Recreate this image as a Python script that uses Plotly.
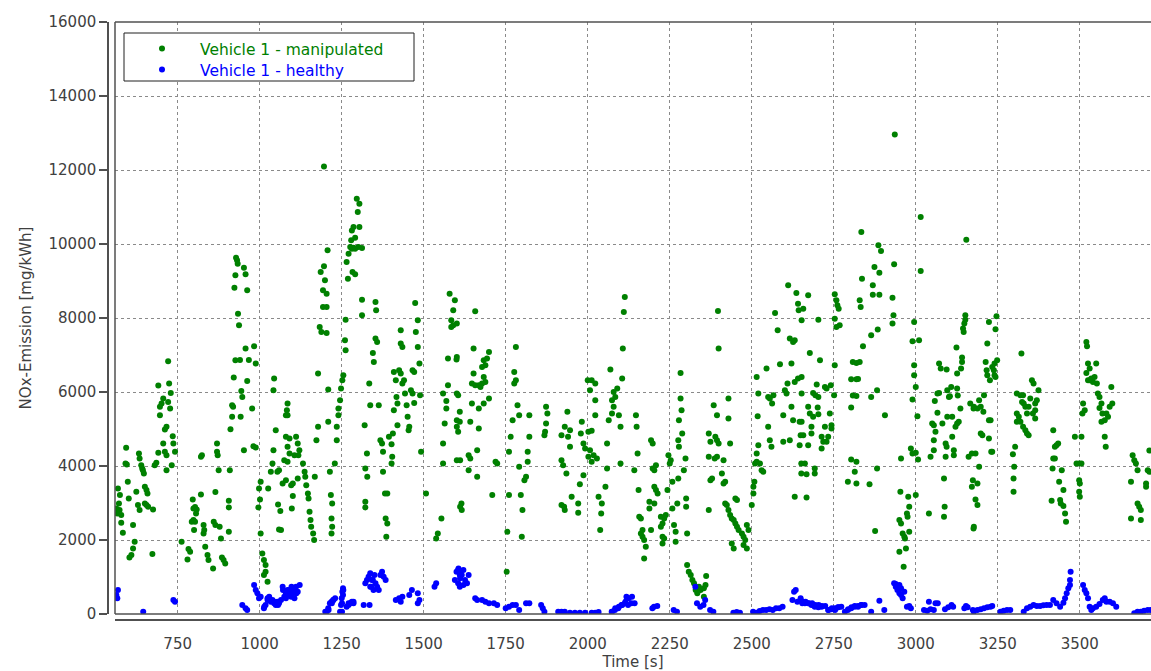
import plotly.graph_objects as go

# NOx emission samples (time [s], NOx [mg/kWh]) - manipulated vehicle
manip_a = [(568,3393),(574,3213),(571,2988),(563,2853),(573,2808),(566,2718),(578,2673),(578,2466),(583,2196),
           (593,4491),(591,4068),(595,4041),(598,3573),(601,3123),(619,1953),(614,1773),(609,1593),(603,1530),
           (624,3303),(614,2403),(629,2943),(634,2808),(632,4338),(634,4203),(639,4023),(644,3888),(647,3798),
           (642,3933),(650,3438),(655,3348),(658,3258),(650,2988),(655,2943),(660,2898),(675,2826),(673,1620),
           (680,4023),(685,4086),(691,4356),(691,6174),(696,5598),(701,5688),(696,5373),(706,5823),(711,4986),
           (716,5058),(706,4608),(711,4383),(716,4293),(721,6831),(724,6228),(729,5976),(721,5733),(727,5553),
           (735,4806),(737,4608),(742,4383),(732,4023),(716,3888)]
manip_b = [(762,1953),(783,1755),(788,1683),(780,1476),(796,3096),(798,2850),(803,2895),(808,2823),(806,2718),
           (798,2538),(803,2493),(793,2493),(800,2268),(821,3231),(821,4248),(824,4293),(829,2403),(831,2268),
           (829,2178),(834,1818),(841,1593),(844,1458),(858,1233),(860,2493),(865,2403),(865,3294),(870,4608),
           (870,4383),(872,4293),(875,3888),(878,2358),(882,2043),(885,1530),(890,1458),(895,1368),(906,2223),
           (906,3060),(906,2880),(909,3888),(911,4995),(916,5643),(919,5598),(916,5328),(921,6390),(926,6858),
           (928,9630),(931,9558),(933,9468),(926,9153),(923,8820),(934,8118),(937,7803),(942,5328),(944,6030),
           (947,5868),(940,6867),(952,9360),(957,9180),(962,8748),(952,4428),(957,7173),(967,6867),(962,6300),
           (977,5553),(981,4536),(988,4500),(983,7236),(988,6768)]
manip_c = [(1003,2178),(1003,3573),(998,3393),(1001,3096),(996,2880),(1008,1638),(1013,1458),(1018,1323),
           (1018,1143),(1013,1053),(1024,873),(1026,3393),(1034,3843),(1039,4068),(1042,4428),(1049,4968),
           (1044,6363),(1042,6048),(1054,3843),(1059,3888),(1056,2961),(1063,2781),(1059,2286),(1065,2268),
           (1070,3528),(1080,3618),(1075,4158),(1080,4788),(1085,5373),(1085,5688)]
manip_d = [(1083,5508),(1080,5373),(1091,4743),(1085,4518),(1091,4338),(1085,4113),(1096,3483),(1101,3186),
           (1098,2853),(1111,4788),(1116,4608),(1121,4428),(1118,4293),(1106,4293),(1132,4068),(1137,3843),
           (1139,3708),(1142,3483),(1147,3258),(1149,3123),(1152,2763),(1155,2538),(1157,2358),(1163,2178),
           (1166,1998),(1116,3663),(1101,3528),(1168,3708),(1173,4698),(1178,5058),(1178,6498),(1183,7758),
           (1188,7623),(1204,7596),(1186,9243),(1196,9396),(1199,9018),(1204,8658),(1193,8748),(1193,8298),
           (1204,8298),(1207,9828),(1209,6066),(1209,5193),(1214,3843),(1217,3213),(1221,2988),(1219,2583),
           (1221,2358),(1219,2178),(1196,12096),(1229,4068),(1235,4698),(1235,5058),(1240,5373),(1240,5553),
           (1245,5778),(1248,6093),(1252,6318),(1255,6453),(1262,7956),(1260,7398),(1262,7128),(1265,9513),
           (1271,9738),(1269,9063),(1276,9918),(1281,9873),(1286,9900),(1291,9873),(1301,9918),(1312,9891),
           (1279,10098),(1291,10170),(1304,10458),(1299,10863),(1304,11088),(1296,11223),(1281,10368),
           (1286,10458),(1283,9243),(1291,9180),(1312,8496),(1312,8073),(1320,5103),(1327,4338),(1322,3933),
           (1328,3708),(1322,3033),(1322,2880),(1334,6228),(1337,5643),(1345,7056),(1348,6813),(1353,8433),
           (1355,8208),(1353,7443),(1358,7353),(1363,5643),(1368,4698),(1373,4608),(1376,4383),(1376,3843),
           (1382,3258),(1389,3258),(1384,2583),(1389,2448),(1386,2088),(1394,4788),(1402,4590),(1404,4248),
           (1402,4068),(1409,6543),(1415,6318),(1417,5868),(1420,5688),(1409,5508),(1420,5103),(1406,4878),
           (1425,6588),(1430,6498),(1435,6228),(1440,6318),(1430,7668),(1435,7218),(1430,7308),(1443,5958),
           (1448,5643),(1451,5328),(1456,5058),(1454,4968),(1461,6048),(1466,5958),(1471,5706),(1466,6588),
           (1471,6543),(1474,8406),(1482,7938),(1476,7623),(1482,7218),(1487,6768),(1489,5913),(1492,4383),
           (1507,3258),(1538,2043),(1543,2178),(1554,2583),(1579,8658),(1595,8478),(1590,8208),(1584,7938),
           (1590,7803),(1584,7758),(1574,6903),(1600,6876),(1574,6183),(1559,5958),(1569,5760),(1569,5553),
           (1564,5148),(1559,4608),(1559,4068),(1605,5913),(1610,5463),(1605,4923),(1610,5193),(1615,2988)]
manip_e = [(1601,7848),(1601,6948),(1601,5958),(1601,5238),(1601,5058),(1601,4158),(1611,2898),(1616,2808),
           (1611,4158),(1637,4293),(1642,4203),(1637,3888),(1663,4428),(1642,5193),(1647,5688),(1668,5553),
           (1683,5688),(1699,5823),(1652,7173),(1699,7083),(1683,6858),(1688,6723),(1693,6903),(1678,6678),
           (1683,6408),(1652,6498),(1647,6228),(1657,6183),(1668,6183),(1673,6138),(1678,6228),(1688,6273),
           (1668,5013),(1663,3708),(1709,3213),(1719,4113),(1724,4068),(1657,8181),(1760,4383),(1760,3213),
           (1755,2223),(1753,1143),(1771,5238),(1765,4788),(1776,6543),(1781,6318),(1776,6228),(1781,7218),
           (1786,5643),(1791,5373),(1791,3978),(1796,3213),(1801,2808),(1799,2088),(1807,3618),(1812,3708),
           (1817,4383),(1817,4113),(1822,5373),(1822,4788),(1873,5598),(1877,5418),(1870,4923),(1868,4833),
           (1873,5148),(1920,4833),(1930,5058),(1938,5463),(1946,4968),(1940,4788),(1946,4518),(1920,4158),
           (1925,4023),(1935,3798),(1920,2943),(1928,2898),(1930,2808),(1951,3168),(1971,2988),(1971,2736),
           (1976,3510),(1987,3753),(1982,5193),(1979,4878),(1987,4608),(1992,4473),(2002,4923),(2012,4950),
           (2007,4428),(2002,4248),(2012,4113),(2018,4293),(2028,4203),(2000,6318),(2012,6318),(2023,6228),
           (2007,6048),(2023,5778),(2023,5373),(2033,3168),(2043,2988),(2041,2718),(2038,2268),(2054,3438),
           (2059,3933),(2059,4608),(2064,5238),(2074,5418),(2079,5598),(2074,5778),(2079,6003),(2084,5868),
           (2090,6093),(2095,5373),(2100,5058),(2069,6606),(2105,6363),(2107,7173),(2110,8163),(2113,8568),
           (2100,4068)]
manip_f = [(2147,5373),(2149,5058),(2152,4338),(2142,3888),(2155,3348),(2157,2628),(2162,2583),(2167,2088),
           (2172,1998),(2177,1818),(2172,1503),(2162,2178),(2167,2268),(2188,3033),(2188,2853),(2193,2268),
           (2193,4698),(2198,4608),(2198,3933),(2203,3888),(2208,4023),(2203,3438),(2208,3348),(2213,3258),
           (2203,2988),(2223,2628),(2228,2448),(2233,2583),(2238,2673),(2223,2358),(2228,2088),(2228,1908),
           (2233,2043),(2243,3348),(2246,4293),(2250,4068),(2253,4158),(2258,3573),(2276,3663),(2258,2853),
           (2263,2403),(2268,2223),(2268,1953),(2273,2988),(2276,4698),(2278,4518),(2288,4878),(2278,5238),
           (2283,5823),(2286,5508),(2283,6516),(2298,4203),(2293,3888),(2300,3123),(2300,2898),(2303,2178),
           (2303,1323),(2308,1143),(2314,1053),(2319,918),(2324,828),(2329,648),(2334,558),(2339,738),
           (2344,648),(2354,693),(2359,783),(2354,468),(2361,1026),(2369,2808),(2369,4878),(2374,4653),
           (2369,4248),(2374,3618),(2379,3663),(2384,5643),(2394,5373),(2389,4788),(2394,4698),(2399,4608),
           (2394,4248),(2387,4203),(2414,4158),(2399,7173),(2397,8190),(2409,3798),(2414,3528),(2419,3573),
           (2419,2988),(2424,2943),(2429,2808),(2434,2673),(2439,2583),(2445,2538),(2429,5823),(2429,5283),
           (2434,4608),(2450,3123),(2455,3078),(2450,2448),(2455,2358),(2460,2268),(2439,1908),(2445,1773),
           (2470,2178),(2475,2088),(2480,1998),(2475,1863),(2485,1773),(2490,2268),(2485,2403),(2500,2943),
           (2505,3258),(2505,3438),(2508,3573),(2510,4068),(2515,4113),(2525,4068),(2530,3888),(2535,3843),
           (2515,4338),(2520,4563),(2518,5346),(2520,5958),(2515,6408),(2545,6633),(2550,5868),(2550,5058),
           (2555,4698),(2560,4518),(2555,5823),(2562,5688),(2566,5913),(2571,8136),(2579,7668),(2586,6753),
           (2596,5373),(2596,4653),(2601,6048),(2606,5958),(2609,6228),(2611,8883),(2636,8676),(2641,8388),
           (2643,8208),(2616,7443),(2626,7353),(2631,7398),(2621,6768),(2631,6273),(2641,6363),(2626,5238),
           (2621,5598),(2616,4698),(2646,5193),(2649,4833),(2646,4563),(2651,4068),(2651,3798),(2631,3168)]
manip_g = [(2672,8613),(2657,8253),(2652,7938),(2703,7956),(2677,7056),(2708,6858),(2652,6408),(2652,5958),
           (2698,6201),(2687,5976),(2694,5913),(2703,5868),(2723,6138),(2741,6183),(2728,6093),(2672,5598),
           (2677,5418),(2701,5580),(2687,5328),(2703,5400),(2652,5193),(2657,4833),(2672,4563),(2682,5058),
           (2682,4878),(2723,5058),(2738,5418),(2743,5103),(2743,5013),(2713,4788),(2718,4653),(2728,4653),
           (2733,4788),(2713,4473),(2662,4068),(2667,3780),(2692,3933),(2692,3798),(2667,3150),(2753,8640),
           (2758,8478),(2761,8343),(2765,8253),(2753,7983),(2758,7758),(2768,7803),(2753,6723),(2751,5913),
           (2803,5580),(2808,5904),(2819,5895),(2808,6813),(2819,6786),(2829,6813),(2803,6345),(2819,6345),
           (2824,6354),(2803,4176),(2819,4113),(2814,3843),(2819,3528),(2793,3573),(2834,10323),(2829,8478),
           (2832,8298),(2836,9063),(2839,7236),(2864,7533),(2884,7686),(2869,8883),(2869,8631),(2889,8631),
           (2874,9378),(2889,9225),(2886,9963),(2894,9810),(2882,6048),(2864,5868),(2859,3510),(2876,2241),
           (2882,3933),(2906,5373),(2929,8550),(2932,8073),(2929,7848),(2934,9450),(2936,12960),(2955,4203),
           (2953,3303),(2950,2538),(2955,2448),(2960,2178),(2965,2088),(2967,2043),(2970,1773),(2950,1683),
           (2963,1278),(2973,2718),(2975,2628),(2980,2898),(2977,3168),(2980,2223),(2985,4473),(2990,4338),
           (3000,4356),(3000,3213),(2990,7371),(3010,7398),(2995,7893),(2995,6723),(2995,6453),(2990,5796),
           (3000,6138),(3005,5346),(3007,4176),(3015,10728),(3015,9270),(3040,2718),(3045,4248),(3050,5148),
           (3055,5103),(3060,4923),(3055,4698),(3055,4428),(3058,5760),(3066,5436),(3071,5976),(3066,5958),
           (3071,6768),(3076,6633),(3081,5148),(3086,3663),(3088,2898),(3086,2628),(3094,6606),(3096,6048),
           (3101,5868),(3091,4608),(3094,4518),(3091,4248),(3096,5328),(3111,5328),(3104,5886),(3108,6138),
           (3126,6093),(3128,5904),(3111,4788),(3116,4428),(3116,4293),(3121,5058),(3126,5148),(3131,5193),
           (3124,7200),(3126,6498),(3141,6930),(3141,6813),(3138,6633),(3144,7713),(3148,7848),(3146,7623),
           (3151,8073),(3151,7956),(3154,10116),(3136,5553),(3166,5688),(3176,5553),(3161,4248),(3171,4338),
           (3171,3438),(3174,3618),(3176,2313)]
manip_h = [(3177,2358),(3182,3096),(3188,2943),(3188,3528),(3193,3978),(3182,4338),(3198,4878),(3203,4833),
           (3177,5598),(3188,5553),(3198,5598),(3193,5778),(3208,5913),(3206,5463),(3223,5238),(3223,4743),
           (3228,5238),(3230,4383),(3233,4383),(3218,7308),(3213,6813),(3216,6588),(3218,6453),(3226,6318),
           (3223,7893),(3233,6678),(3238,6588),(3240,6453),(3243,6408),(3240,6768),(3248,6858),(3243,7695),
           (3246,8046),(3298,3303),(3298,3663),(3300,3978),(3296,4320),(3303,4518),(3322,7038),(3308,5958),
           (3319,5913),(3327,5913),(3324,5733),(3308,5418),(3314,5328),(3319,5193),(3308,5193),(3329,5688),
           (3334,5598),(3339,5418),(3344,5598),(3349,5823),(3354,6318),(3359,6228),(3364,5688),(3369,5778),
           (3374,6048),(3327,5058),(3334,4968),(3339,4878),(3344,4833),(3357,5418),(3364,5283),(3364,5508),
           (3419,4968),(3424,4518),(3429,4563),(3434,4608),(3419,4203),(3424,4203),(3417,3933),(3445,3888),
           (3437,3573),(3450,3348),(3414,3060),(3440,3078),(3442,2988),(3450,2916),(3455,2718),(3458,2493),
           (3485,4788),(3490,4068),(3498,4068),(3505,4068),(3498,3618),(3500,3528),(3498,3303),(3500,3168),
           (3505,4788),(3520,7353),(3522,7236),(3525,6768),(3530,6633),(3520,6516),(3525,6318),(3530,6318),
           (3535,6363),(3540,6273),(3545,6408),(3550,6768),(3552,6228),(3555,5958),(3560,5868),(3566,5688),
           (3560,5568),(3569,5418),(3566,5193),(3576,5238),(3581,5418),(3586,5328),(3591,5598),(3596,6138),
           (3599,5688),(3576,4788),(3579,4518),(3510,5688),(3515,5508),(3508,5418),(3661,4293),(3666,4158),
           (3671,4068),(3676,3888),(3656,3573),(3676,2988),(3681,2898),(3686,2808),(3656,2583),(3686,2538),
           (3712,4418),(3707,3888),(3712,3843),(3702,3438),(3702,3528)]

# NOx emission samples (time [s], NOx [mg/kWh]) - healthy vehicle
healthy_a = [(568,648),(563,513),(566,423),(645,63),(737,378),(742,333),(947,243),(957,153),(962,108),
             (983,783),(988,648),(993,558),(998,423),(1003,468),(1013,153),(1018,243),(1024,378),(1029,468),
             (1034,333),(1039,378),(1044,288),(1049,243),(1054,333),(1059,288),(1070,738),(1075,468),
             (1080,423),(1085,513),(1090,558),(1014,198),(1024,423),(1044,333),(1056,243),(1065,378),
             (1085,648),(1097,738),(1102,603),(1112,558),(1122,783),(1071,648),(1087,558),(1200,63),
             (1210,108),(1220,288),(1225,378),(1230,423),(1251,63),(1251,288),(1254,513),(1254,693),
             (1265,198),(1271,288),(1281,333),(1286,288),(1335,243),(1340,738),(1345,918),(1350,1053)]
healthy_b = [(1080,558),(1091,648),(1096,468),(1101,558),(1106,648),(1111,738),(1116,603),(1106,423),
             (1204,63),(1209,153),(1214,288),(1219,333),(1224,378),(1245,63),(1248,243),(1250,423),
             (1252,603),(1255,648),(1271,243),(1276,288),(1286,333),(1317,243),(1322,828),(1327,918),
             (1332,1008),(1337,1098),(1342,918),(1353,828),(1358,738),(1363,648),(1368,1053),(1373,1143),
             (1378,1008),(1384,918),(1337,738),(1347,648),(1415,378),(1425,423),(1430,333),(1435,468),
             (1456,513),(1464,648),(1482,558),(1487,378),(1482,288),(1533,738),(1538,828),(1595,918),
             (1600,1143),(1605,1188),(1610,1053),(1605,828),(1610,738)]
healthy_c = [(1606,1233),(1611,1143),(1616,1053),(1621,1188),(1626,918),(1632,828),(1621,783),(1637,1053),
             (1611,963),(1657,423),(1663,378),(1678,378),(1688,333),(1699,288),(1714,288),(1724,243),
             (1750,153),(1760,198),(1771,243),(1781,243),(1791,108),(1812,288),(1822,288),(1858,243),
             (1863,153),(1868,63),(1910,63),(1920,63),(1930,63),(1946,36),(1961,36),(1976,36),(1992,36),
             (2012,36),(2023,36),(2033,54),(2074,63),(2084,153),(2095,198),(2105,243),(2115,333),(2125,423),
             (2135,468)]
healthy_d = [(2073,63),(2083,108),(2093,153),(2103,243),(2113,288),(2123,243),(2133,288),(2143,288),
             (2118,468),(2197,153),(2202,198),(2212,216),(2262,108),(2272,63),(2328,738),(2333,288),
             (2343,198),(2353,243),(2358,378),(2373,108),(2383,63),(2444,36),(2454,54),(2464,36),(2504,63),
             (2514,36),(2524,81),(2534,108),(2544,108),(2554,126),(2564,108),(2574,153),(2584,153),(2594,198),
             (2624,378),(2629,603),(2634,648),(2639,333),(2649,423),(2654,288),(2664,333),(2674,288),
             (2684,288),(2694,243),(2704,243),(2714,216),(2724,216),(2734,108),(2744,153),(2754,108),
             (2764,180),(2784,63),(2794,126),(2804,180),(2814,216),(2824,198),(2834,243)]
healthy_e = [(2657,333),(2662,288),(2672,288),(2682,243),(2692,198),(2703,180),(2713,198),(2733,108),
             (2743,126),(2753,153),(2763,180),(2773,198),(2793,108),(2803,153),(2814,198),(2824,216),
             (2834,243),(2844,243),(2864,63),(2889,360),(2904,108),(2934,828),(2939,738),(2944,648),
             (2950,558),(2955,513),(2960,423),(2955,693),(2965,603),(2939,810),(2950,783),(2973,198),
             (2980,216),(2985,153),(3025,108),(3035,90),(3045,126),(3055,108),(3040,333),(3060,288),
             (3067,288),(3089,126),(3099,180),(3109,243),(3114,198),(3148,153),(3153,216),(3158,180),
             (3174,108)]
healthy_f = [(3177,63),(3188,108),(3198,126),(3208,153),(3218,180),(3228,198),(3233,216),(3258,63),
             (3268,90),(3278,108),(3288,108),(3329,63),(3339,153),(3349,198),(3359,243),(3369,216),
             (3379,216),(3389,234),(3399,243),(3409,243),(3419,378),(3429,288),(3440,198),(3450,306),
             (3455,423),(3460,558),(3465,693),(3470,783),(3470,918),(3472,1143),(3510,783),(3515,648),
             (3520,558),(3525,423),(3530,198),(3535,108),(3540,153),(3550,198),(3560,270),(3570,378),
             (3576,423),(3581,333),(3591,333),(3601,288),(3611,198),(3666,18),(3676,63),(3686,63),
             (3696,90),(3707,108),(3716,108)]

x_ticks = [750, 1000, 1250, 1500, 1750, 2000, 2250, 2500, 2750, 3000, 3250, 3500]
y_ticks = [0, 2000, 4000, 6000, 8000, 10000, 12000, 14000, 16000]

manip = manip_a + manip_b + manip_c + manip_d + manip_e + manip_f + manip_g + manip_h
healthy = healthy_a + healthy_b + healthy_c + healthy_d + healthy_e + healthy_f

W, H = 1151, 671
ML, MR, MT, MB = 108, 0, 22, 51
PW, PH = W - ML - MR, H - MT - MB
gap_x = 7 / PW   # offset between y axis line and plot frame
gap_y = 6 / PH   # offset between x axis line and plot frame

FONT = "DejaVu Sans"
TXT = "#404040"
FRAME = "#505050"


def px_x(px):
    return (px - ML) / PW


def px_y(px):
    return (H - MB - px) / PH


legend_common = dict(xanchor="left", yanchor="top", bgcolor="rgba(0,0,0,0)", borderwidth=0,
                     itemwidth=66, font=dict(family=FONT, size=15.5, color=TXT))

fig = go.Figure()
fig.add_trace(go.Scatter(
    x=[p[0] for p in manip], y=[p[1] for p in manip], mode="markers",
    name="<span style='color:#008000'>Vehicle 1 - manipulated</span>",
    marker=dict(color="#008000", size=6, symbol="circle", line=dict(width=0)),
    legend="legend",
))
fig.add_trace(go.Scatter(
    x=[p[0] for p in healthy], y=[p[1] for p in healthy], mode="markers",
    name="<span style='color:#0000ff'>Vehicle 1 - healthy</span>",
    marker=dict(color="#0000ff", size=6, symbol="circle", line=dict(width=0)),
    legend="legend2",
))

fig.update_layout(
    width=W, height=H,
    margin=dict(l=ML, r=MR, t=MT, b=MB, pad=0),
    paper_bgcolor="white", plot_bgcolor="white",
    font=dict(family=FONT, size=15, color=TXT),
    showlegend=True,
    legend=dict(x=px_x(124), y=px_y(32), **legend_common),
    legend2=dict(x=px_x(124), y=px_y(53), **legend_common),
    xaxis=dict(
        domain=[gap_x, 1], range=[559, 3717], anchor="free", position=0,
        tickvals=x_ticks, ticktext=[str(v) for v in x_ticks],
        showline=True, linecolor=FRAME, linewidth=1.5,
        ticks="", ticklabelstandoff=10,
        showgrid=True, gridcolor="#8a8a8a", gridwidth=1, griddash="3px,3px",
        zeroline=False,
        title=dict(text="Time [s]", font=dict(family=FONT, size=15, color=TXT), standoff=4),
        tickfont=dict(family=FONT, size=15, color=TXT),
    ),
    yaxis=dict(
        domain=[gap_y, 1], range=[0, 16000], anchor="free", position=0,
        tickvals=y_ticks, ticktext=[str(v) for v in y_ticks],
        showline=True, linecolor=FRAME, linewidth=1.5,
        ticks="outside", ticklen=8, tickwidth=1.5, tickcolor=FRAME,
        showgrid=True, gridcolor="#8a8a8a", gridwidth=1, griddash="3px,3px",
        zeroline=False,
        title=dict(text="NOx-Emission [mg/kWh]", font=dict(family=FONT, size=15, color=TXT), standoff=12),
        tickfont=dict(family=FONT, size=15, color=TXT),
    ),
)

# plot frame (left, top, bottom) and legend box
frame = dict(color=FRAME, width=1.5)
fig.add_shape(type="line", xref="paper", yref="paper", x0=gap_x, x1=gap_x, y0=gap_y, y1=1, line=frame)
fig.add_shape(type="line", xref="paper", yref="paper", x0=gap_x, x1=1, y0=1, y1=1, line=frame)
fig.add_shape(type="line", xref="paper", yref="paper", x0=gap_x, x1=1, y0=gap_y, y1=gap_y, line=frame)
fig.add_shape(type="rect", xref="paper", yref="paper",
              x0=px_x(124), x1=px_x(414), y0=px_y(81), y1=px_y(33),
              line=dict(color="#202020", width=1), fillcolor="white", layer="above")

fig.write_html("out.html")
